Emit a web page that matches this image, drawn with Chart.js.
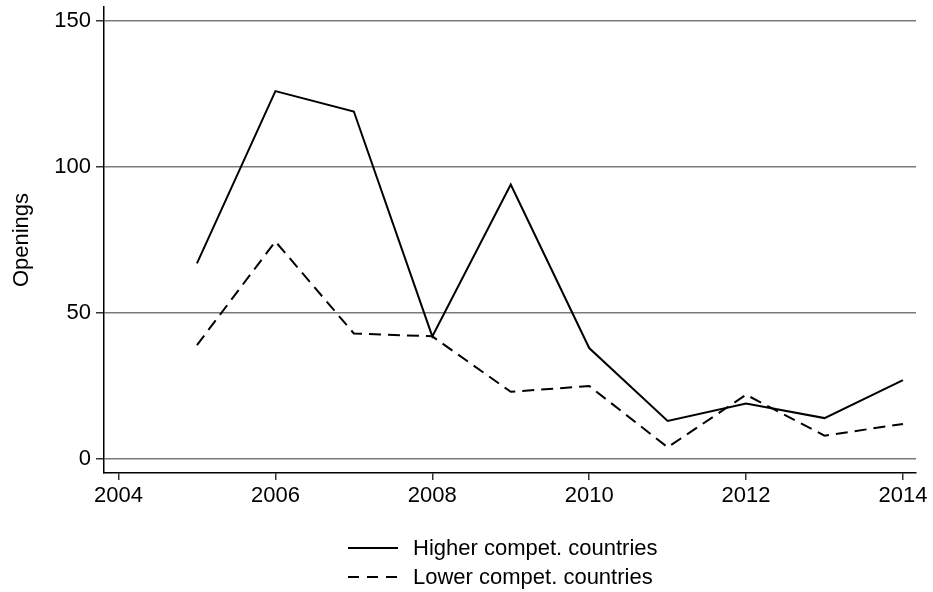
<!DOCTYPE html>
<html>
<head>
<meta charset="utf-8">
<script src="https://cdn.jsdelivr.net/npm/chart.js@4/dist/chart.umd.min.js"></script>
<style>
  body { margin: 0; background: #fff; font-family: "Liberation Sans", Arial, sans-serif; }
  #wrap { position: relative; width: 933px; height: 592px; }
  #legend { position: absolute; left: 348px; top: 533px; font-size: 22px; color: #000; }
  .row { display: flex; align-items: center; height: 29px; }
  .row svg { width: 52px; height: 10px; margin-right: 13px; }
</style>
</head>
<body>
<div id="wrap">
  <canvas id="openChart" width="933" height="592"></canvas>
  <div id="legend"></div>
</div>
<script>
// values
const years = [2005, 2006, 2007, 2008, 2009, 2010, 2011, 2012, 2013, 2014]
const higher_compet = [67, 126, 119, 42, 94, 38, 13, 19, 14, 27]
const lower_compet = [39, 74.5, 43, 42, 23, 25, 4, 22, 8, 12]
const x_ticks = [2004, 2006, 2008, 2010, 2012, 2014]
const y_ticks = [0, 50, 100, 150]
const series_labels = ['Higher compet. countries', 'Lower compet. countries']

const fontSpec = {family: '"Liberation Sans", Arial, sans-serif', size: 22}

const toPoints = (vals) => years.map((yr, i) => ({x: yr, y: vals[i]}))

const ctx = document.getElementById('openChart').getContext('2d');

new Chart(ctx, {type: 'line',
  data: {
    datasets: [
      {
        label: series_labels[0],
        data: toPoints(higher_compet),
        borderColor: '#000',
        borderWidth: 2,
        pointRadius: 0,
        tension: 0
      },
      {
        label: series_labels[1],
        data: toPoints(lower_compet),
        borderColor: '#000',
        borderWidth: 2,
        borderDash: [12, 7],
        pointRadius: 0,
        tension: 0
      }]
  },
  options: {
    responsive: false,
    animation: false,
    layout: {padding: {top: 7, right: 17, bottom: 72, left: 0}},
    plugins: {
      legend: {display: false},
      tooltip: {enabled: false}
    },
    scales: {
      x: {
        type: 'linear',
        min: 2003.815,
        max: 2014.166,
        afterBuildTicks: (scale) => { scale.ticks = x_ticks.map(v => ({value: v})) },
        afterFit: (scale) => {
          scale.height = 47
          scale.paddingLeft = 0
          scale.paddingRight = 0
        },
        ticks: {
          color: '#000',
          font: fontSpec,
          padding: 3,
          maxRotation: 0,
          callback: (v) => String(v)
        },
        grid: {
          drawOnChartArea: false,
          drawTicks: true,
          tickLength: 7,
          tickColor: '#333',
          lineWidth: 1.5
        },
        border: {display: true, color: '#000', width: 1.5}
      },
      y: {
        min: -4.8,
        max: 154.8,
        afterBuildTicks: (scale) => { scale.ticks = y_ticks.map(v => ({value: v})) },
        afterFit: (scale) => {
          scale.width = 104
          scale.paddingTop = 0
          scale.paddingBottom = 0
        },
        title: {
          display: true,
          text: 'Openings',
          color: '#000',
          font: fontSpec,
          padding: {top: 9, bottom: 0}
        },
        ticks: {
          color: '#000',
          font: fontSpec,
          padding: 5
        },
        grid: {
          color: '#7a7a7a',
          lineWidth: 1.5,
          tickLength: 8,
          tickColor: '#333'
        },
        border: {display: true, color: '#000', width: 1.5}
      }
    }
  }
});

// legend, one item per row
const legendDiv = document.getElementById('legend')
series_labels.forEach((lbl, i) => {
  const dash = i === 1 ? 'stroke-dasharray="11 8"' : ''
  legendDiv.innerHTML += `<div class="row"><svg viewBox="0 0 52 10"><line x1="0" y1="5" x2="50" y2="5" stroke="#000" stroke-width="2" ${dash}/></svg><span>${lbl}</span></div>`
});
</script>
</body>
</html>
